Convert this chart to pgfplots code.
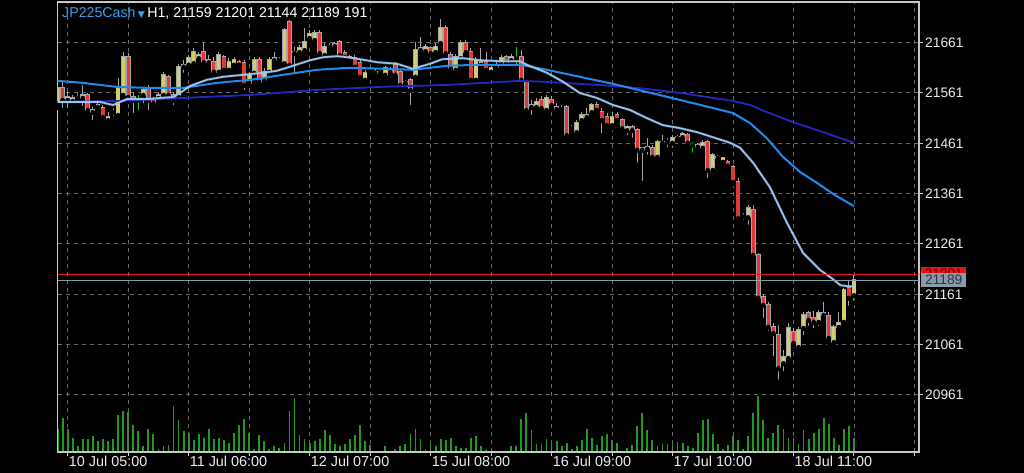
\documentclass[border=0pt]{standalone}
\usepackage{pgfplots}
\pgfplotsset{compat=1.18}
\usepackage{pgfplotstable}
\usepackage{fontspec}
\setmainfont{Liberation Sans}
\newfontfamily\symbolfont{DejaVu Sans}

\definecolor{bullbody}{RGB}{210,206,112}
\definecolor{bearbody}{RGB}{222,58,58}
\definecolor{wick}{RGB}{165,165,165}
\definecolor{dojigreen}{RGB}{20,200,20}
\definecolor{volgreen}{RGB}{32,155,32}
\definecolor{mafast}{RGB}{145,198,246}
\definecolor{mamid}{RGB}{30,140,232}
\definecolor{maslow}{RGB}{38,38,196}
\definecolor{gridgray}{RGB}{105,105,105}
\definecolor{framegray}{RGB}{200,200,200}
\definecolor{titleblue}{RGB}{58,160,240}
\definecolor{bidgray}{RGB}{138,154,170}
\definecolor{askred}{RGB}{230,20,20}

% hourly bars: index, open, high, low, close, tick volume
\pgfplotstableread{
i o h l c v
-2 21541 21577 21531 21571 300
-1 21571 21583 21527 21547 458
0 21547 21563 21527 21553 312
1 21545 21557 21537 21551 191
2 21551 21563 21547 21551 76
3 21551 21577 21531 21557 169
4 21557 21561 21517 21527 169
5 21523 21533 21503 21527 218
6 21533 21547 21523 21537 142
7 21531 21537 21503 21513 169
8 21507 21523 21497 21513 142
9 21523 21531 21511 21523 169
10 21517 21591 21507 21571 490
11 21557 21642 21547 21632 543
12 21632 21640 21547 21553 534
13 21553 21563 21517 21547 356
14 21547 21557 21523 21547 276
15 21557 21571 21537 21567 76
16 21571 21577 21523 21547 312
17 21547 21553 21533 21541 240
18 21551 21563 21543 21557 36
19 21557 21603 21547 21597 76
20 21593 21597 21547 21557 89
21 21557 21563 21533 21547 610
22 21553 21619 21547 21613 423
23 21613 21626 21597 21617 276
24 21617 21636 21611 21630 258
25 21620 21650 21613 21642 156
26 21630 21642 21622 21636 240
27 21642 21660 21617 21622 191
28 21622 21636 21613 21626 312
29 21622 21632 21597 21603 169
30 21603 21642 21597 21636 191
31 21632 21636 21603 21607 156
32 21607 21630 21601 21622 120
33 21617 21632 21611 21626 258
34 21622 21626 21613 21617 356
35 21620 21626 21563 21577 441
36 21581 21603 21575 21597 258
37 21601 21632 21597 21626 36
38 21626 21632 21577 21583 223
39 21587 21611 21581 21603 142
40 21603 21632 21597 21626 36
41 21626 21642 21620 21630 85
42 21626 21632 21620 21626 53
43 21620 21690 21617 21686 125
44 21702 21706 21613 21617 543
45 21640 21652 21597 21642 712
46 21642 21656 21636 21650 223
47 21646 21690 21642 21662 169
48 21670 21686 21662 21678 120
49 21666 21686 21662 21680 142
50 21680 21686 21632 21640 169
51 21636 21660 21632 21652 289
52 21652 21660 21642 21652 223
53 21654 21662 21650 21658 107
54 21662 21666 21632 21636 76
55 21640 21646 21626 21632 107
56 21632 21636 21620 21626 169
57 21630 21636 21607 21613 223
58 21620 21626 21587 21593 356
59 21587 21607 21583 21601 142
60 21607 21613 21597 21607 89
61 21603 21609 21595 21601 10
62 21603 21607 21597 21603 18
63 21597 21615 21593 21611 76
64 21603 21613 21599 21607 18
65 21617 21622 21591 21597 36
66 21603 21607 21571 21577 76
67 21581 21587 21573 21583 107
68 21587 21591 21533 21567 245
69 21593 21662 21587 21646 312
70 21646 21672 21642 21650 169
71 21644 21658 21638 21652 36
72 21650 21654 21636 21640 107
73 21642 21660 21636 21652 76
74 21660 21708 21654 21690 169
75 21690 21696 21636 21640 156
76 21636 21642 21601 21610 191
77 21607 21638 21601 21632 76
78 21630 21666 21626 21660 53
79 21660 21666 21636 21642 53
80 21642 21650 21583 21587 191
81 21587 21632 21583 21626 209
82 21617 21650 21611 21622 76
83 21622 21642 21601 21607 22
84 21603 21615 21599 21611 10
85 21613 21622 21611 21617 13
86 21620 21636 21617 21630 18
87 21632 21636 21611 21622 18
88 21626 21638 21622 21632 76
89 21630 21652 21613 21630 76
90 21632 21646 21581 21587 445
91 21583 21587 21517 21527 525
92 21533 21547 21513 21537 289
93 21533 21551 21523 21543 107
94 21547 21555 21523 21531 107
95 21527 21557 21521 21551 169
96 21547 21555 21527 21537 107
97 21533 21541 21523 21529 142
98 21529 21537 21523 21529 76
99 21533 21537 21468 21477 125
100 21491 21497 21481 21491 36
101 21483 21507 21477 21501 76
102 21507 21523 21501 21517 156
103 21513 21531 21507 21517 307
104 21523 21541 21513 21537 191
105 21537 21543 21523 21527 89
106 21523 21531 21477 21507 209
107 21513 21521 21491 21497 240
108 21497 21523 21491 21513 156
109 21517 21523 21501 21507 125
110 21507 21511 21483 21491 18
111 21487 21497 21473 21493 53
112 21493 21497 21468 21487 89
113 21487 21491 21418 21448 343
114 21448 21454 21382 21452 525
115 21450 21471 21434 21454 289
116 21452 21458 21428 21434 156
117 21434 21468 21428 21464 76
118 21462 21477 21452 21464 107
119 21464 21471 21448 21464 107
120 21462 21477 21448 21471 156
121 21471 21477 21468 21473 134
122 21473 21483 21469 21479 125
123 21477 21481 21458 21462 76
124 21458 21464 21438 21458 53
125 21454 21462 21444 21458 258
126 21452 21468 21448 21462 423
127 21464 21468 21388 21408 445
128 21408 21442 21404 21438 240
129 21432 21438 21422 21434 107
130 21424 21434 21418 21432 36
131 21424 21428 21412 21416 89
132 21414 21418 21380 21384 209
133 21384 21392 21309 21312 156
134 21316 21322 21305 21316 36
135 21314 21338 21295 21332 209
136 21328 21338 21235 21239 525
137 21239 21243 21146 21154 743
138 21156 21160 21110 21140 423
139 21140 21146 21084 21096 191
140 21096 21104 21034 21084 258
141 21080 21100 20987 21014 356
142 21024 21050 21004 21036 312
143 21034 21104 21030 21094 191
144 21086 21094 21060 21064 191
145 21056 21096 21050 21090 107
146 21094 21126 21076 21120 289
147 21124 21128 21094 21110 169
148 21114 21128 21090 21106 258
149 21106 21130 21094 21124 307
150 21120 21146 21110 21124 458
151 21118 21126 21064 21074 378
152 21066 21100 21060 21096 191
153 21096 21126 21094 21104 89
154 21106 21173 21100 21169 307
155 21173 21189 21134 21154 343
156 21159 21201 21144 21189 191
}\bars

% moving averages
\pgfplotstableread{
i p
-2.02 21543
3 21543
6.4 21543
9 21537
10.4 21543
11.8 21549
16.3 21549
18.3 21551
20.9 21553
22.3 21561
24.3 21575
27.6 21587
30.8 21593
34.8 21597
38.8 21601
41.5 21605
44.1 21613
48.1 21626
50.7 21632
53.4 21634
55.4 21632
58 21628
61.4 21622
65.3 21619
68.5 21609
71.9 21619
74.3 21628
78.4 21630
81.8 21626
85.8 21624
89.7 21624
91.1 21617
95.1 21601
98.3 21583
101.6 21561
105 21551
108.2 21537
111.6 21527
114.9 21511
118.1 21497
121.5 21491
124.9 21483
128 21473
131.4 21462
133.4 21452
136 21422
139.3 21374
142.7 21303
145.9 21243
149.3 21209
151.3 21195
153.3 21179
154.7 21177
156 21177
}\mafasttab

\pgfplotstableread{
i p
-2.02 21585
3 21581
9.8 21573
16.3 21571
22.9 21571
29.6 21581
36.2 21587
42.7 21597
49.5 21607
56 21611
62.6 21609
68.5 21607
75.3 21615
81.8 21617
89.7 21617
95.1 21607
101.6 21593
108.2 21579
114.9 21563
121.5 21547
128 21531
132 21521
135.4 21501
138.7 21471
141.9 21434
145.3 21404
148.7 21382
151.9 21360
156 21336
}\mamidtab

\pgfplotstableread{
i p
-2.02 21543
9.8 21545
22.9 21551
36.2 21557
49.5 21567
62 21573
75.3 21577
89.7 21585
95.1 21583
108.2 21575
114.9 21569
121.5 21561
125.5 21555
132 21545
135.4 21537
138.7 21523
143.9 21503
148.7 21487
156 21462
}\maslowtab

\pgfplotsset{
  chartframe/.style={
    scale only axis, width=861.5bp, height=450bp,
    at={(57.5bp,21bp)}, anchor=south west,
    xmin=-2.02, xmax=168.9,
  },
  candlebar/.style={only marks, mark=none, forget plot,
    error bars/y dir=plus, error bars/y explicit, error bars/error mark=none},
}

\begin{document}
\begin{tikzpicture}
\fill[black] (0,0) rectangle (1024bp,473bp);

% tick volume
\begin{axis}[chartframe, ymin=0, ymax=5985, axis lines=none, ticks=none]
\addplot[ycomb, volgreen, line width=1.8bp, mark=none] table[x=i, y=v] {\bars};
\end{axis}

\begin{axis}[chartframe,
  ymin=20847.6, ymax=21741.7,
  clip mode=individual,
  axis line style={framegray, line width=1.3bp},
  xtick={0,12,...,168},
  xticklabels={10 Jul 05:00,,11 Jul 06:00,,12 Jul 07:00,,15 Jul 08:00,,16 Jul 09:00,,17 Jul 10:00,,18 Jul 11:00,,},
  ytick={20961,21061,21161,21261,21361,21461,21561,21661},
  yticklabels={20961,21061,21161,21261,21361,21461,21561,21661},
  xtick pos=left, ytick pos=right, yticklabel pos=right,
  grid=major,
  grid style={gridgray, line width=0.9bp, dash pattern=on 4bp off 4bp},
  tick align=outside,
  major tick length=4bp,
  tick style={framegray, line width=1bp},
  ticklabel style={text=white!92!black},
  xticklabel style={anchor=base west, inner sep=0pt, yshift=-10bp, xshift=1bp,
    font=\fontsize{14.4bp}{16bp}\selectfont},
  yticklabel style={anchor=west, inner sep=0pt, xshift=2bp,
    font=\fontsize{13.8bp}{16bp}\selectfont},
]
% wicks
\addplot[candlebar, restrict expr to domain={abs(\thisrow{c}-\thisrow{o})}{0.5:5000},
  error bars/error bar style={wick, line width=1bp}]
  table[x=i, y=l, y error expr=\thisrow{h}-\thisrow{l}] {\bars};
\addplot[candlebar, restrict expr to domain={abs(\thisrow{c}-\thisrow{o})}{-0.5:0.5},
  error bars/error bar style={dojigreen, line width=1bp}]
  table[x=i, y=l, y error expr=\thisrow{h}-\thisrow{l}] {\bars};
% bull bodies
\addplot[candlebar, restrict expr to domain={\thisrow{c}-\thisrow{o}}{0.5:5000},
  error bars/error bar style={wick, line width=4.8bp}]
  table[x=i, y expr=\thisrow{o}-1.8, y error expr=\thisrow{c}-\thisrow{o}+3.6] {\bars};
\addplot[candlebar, restrict expr to domain={\thisrow{c}-\thisrow{o}}{0.5:5000},
  error bars/error bar style={bullbody, line width=3.2bp}]
  table[x=i, y=o, y error expr=\thisrow{c}-\thisrow{o}] {\bars};
% bear bodies
\addplot[candlebar, restrict expr to domain={\thisrow{o}-\thisrow{c}}{0.5:5000},
  error bars/error bar style={wick, line width=4.8bp}]
  table[x=i, y expr=\thisrow{c}-1.8, y error expr=\thisrow{o}-\thisrow{c}+3.6] {\bars};
\addplot[candlebar, restrict expr to domain={\thisrow{o}-\thisrow{c}}{0.5:5000},
  error bars/error bar style={bearbody, line width=3.2bp}]
  table[x=i, y=c, y error expr=\thisrow{o}-\thisrow{c}] {\bars};
% doji bars
\addplot[candlebar, restrict expr to domain={abs(\thisrow{c}-\thisrow{o})}{-0.5:0.5},
  error bars/error bar style={dojigreen, line width=4.4bp}]
  table[x=i, y expr=\thisrow{o}-1, y error expr=2] {\bars};

% moving averages
\addplot[maslow, line width=1.8bp, line join=round] table[x=i, y=p] {\maslowtab};
\addplot[mamid, line width=2bp, line join=round] table[x=i, y=p] {\mamidtab};
\addplot[white, opacity=0.2, line width=2.8bp, line join=round] table[x=i, y=p] {\mafasttab};
\addplot[mafast, line width=1.7bp, line join=round] table[x=i, y=p] {\mafasttab};

% ask and bid lines
\addplot[askred, line width=1.2bp] coordinates {(-2.02,21201) (168.9,21201)};
\addplot[bidgray, line width=1.2bp] coordinates {(-2.02,21189) (168.9,21189)};

\node[anchor=west, fill=askred, inner sep=0pt, minimum width=45bp, minimum height=14.4bp,
  xshift=2bp, text=black!60!red, font=\fontsize{13.8bp}{16bp}\selectfont]
  at (axis cs:168.9,21201) {21201};
\node[anchor=west, fill=bidgray, inner sep=0pt, minimum width=45bp, minimum height=14.4bp,
  xshift=2bp, text=black!80, font=\fontsize{13.8bp}{16bp}\selectfont]
  at (axis cs:168.9,21189) {21189};
\end{axis}

\node[anchor=base west, inner sep=0pt, font=\fontsize{14.2bp}{16bp}\selectfont]
  at (62bp,455bp) {\textcolor{titleblue}{JP225Cash}\,\textcolor{titleblue}{\symbolfont\fontsize{9bp}{10bp}\selectfont ▼}\,\textcolor{white}{H1, 21159 21201 21144 21189 191}};

\pgfresetboundingbox
\useasboundingbox (0,0) rectangle (1024bp,473bp);
\end{tikzpicture}
\end{document}
